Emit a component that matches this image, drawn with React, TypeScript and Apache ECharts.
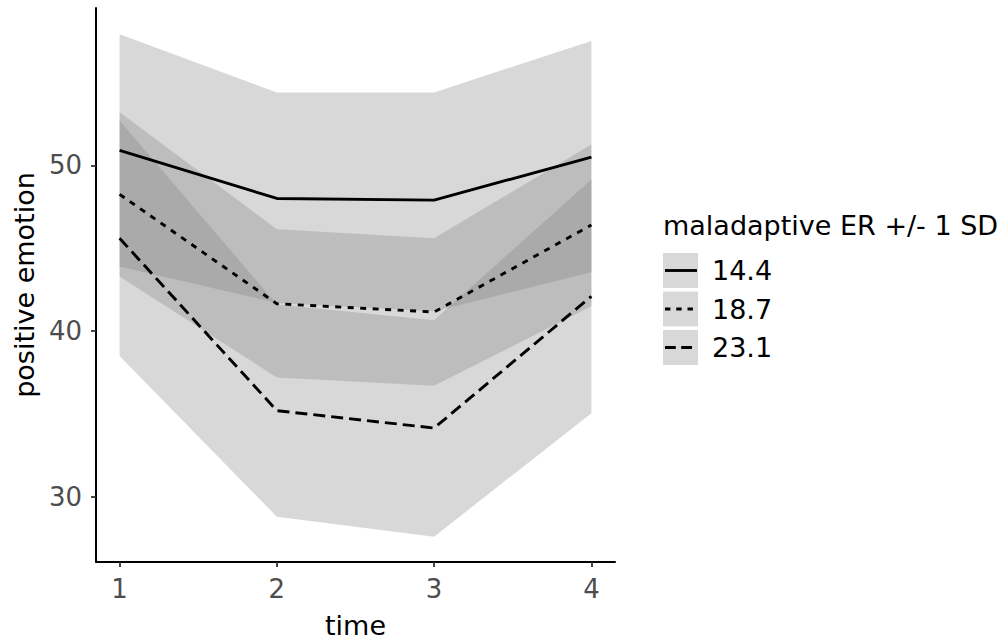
import React, { useEffect, useRef } from "react";
import * as echarts from "echarts";

// ---- data ----
const times = [1, 2, 3, 4];
const groupLabels = ["14.4", "18.7", "23.1"];

const mean144 = [50.9, 48.0, 47.9, 50.5];
const lower144 = [43.9, 41.7, 41.2, 43.55];
const upper144 = [57.9, 54.4, 54.4, 57.5];

const mean187 = [48.25, 41.65, 41.15, 46.4];
const lower187 = [43.3, 37.2, 36.7, 41.5];
const upper187 = [53.2, 46.15, 45.6, 51.25];

const mean231 = [45.6, 35.2, 34.15, 42.1];
const lower231 = [38.5, 28.8, 27.6, 35.05];
const upper231 = [52.7, 41.6, 40.65, 49.15];

const yTickValues = [30, 40, 50];
const xTickValues = [1, 2, 3, 4];

const xTitle = "time";
const yTitle = "positive emotion";
const legendTitle = "maladaptive ER +/- 1 SD";

// ---- styles ----
const FONT = "DejaVu Sans";
const BAND = "rgba(127,127,127,0.3)";
const dashes: (number[] | "solid")[] = ["solid", [6, 6.5], [12, 6]];

const means = [mean144, mean187, mean231];
const lowers = [lower144, lower187, lower231];
const uppers = [upper144, upper187, upper231];

export default function App() {
  const ref = useRef<HTMLDivElement>(null);

  useEffect(() => {
    if (!ref.current) return;
    const chart = echarts.init(ref.current, null, { renderer: "svg" });

    const series: any[] = [];
    groupLabels.forEach((g, i) => {
      // ribbon: one polygon built from upper values then reversed lower values
      series.push({
        name: "band" + g,
        type: "custom",
        coordinateSystem: "cartesian2d",
        data: times.map((t, k) => [t, lowers[i][k], uppers[i][k]]),
        encode: { x: 0, y: [1, 2] },
        silent: true,
        z: 1,
        renderItem: (params: any, api: any) => {
          if (params.dataIndex !== 0) return null;
          const top = times.map((t, k) => api.coord([t, uppers[i][k]]));
          const bot = times
            .map((t, k) => api.coord([t, lowers[i][k]]))
            .reverse();
          return {
            type: "polygon",
            shape: { points: top.concat(bot) },
            style: { fill: BAND },
          };
        },
      });
    });
    groupLabels.forEach((g, i) => {
      series.push({
        name: g,
        type: "line",
        data: times.map((t, k) => [t, means[i][k]]),
        symbol: "none",
        lineStyle: { color: "#000", width: 2.9, type: dashes[i], cap: "butt" },
        z: 3,
      });
    });

    // legend drawn with graphic elements
    const keyX = 663;
    const keyY0 = 253;
    const keyStep = 38.5;
    const keySize = 35;
    const graphic: any[] = [
      {
        type: "text",
        x: keyX,
        y: 225,
        style: {
          text: legendTitle,
          font: `27px '${FONT}'`,
          fill: "#000",
          verticalAlign: "middle",
        },
      },
    ];
    groupLabels.forEach((g, i) => {
      const y = keyY0 + i * keyStep;
      graphic.push({
        type: "rect",
        shape: { x: keyX, y, width: keySize, height: keySize },
        style: { fill: BAND },
      });
      graphic.push({
        type: "line",
        shape: { x1: keyX + 2, y1: y + keySize / 2, x2: keyX + keySize - 1, y2: y + keySize / 2 },
        style: {
          stroke: "#000",
          lineWidth: 2.9,
          lineDash: dashes[i] === "solid" ? null : (dashes[i] as number[]).map((d) => d * 0.9),
        },
      });
      graphic.push({
        type: "text",
        x: 712,
        y: y + keySize / 2,
        style: {
          text: g,
          font: `27px '${FONT}'`,
          fill: "#000",
          verticalAlign: "middle",
        },
      });
    });

    chart.setOption({
      animation: false,
      backgroundColor: "#fff",
      grid: { left: 96, right: 388, top: 8, bottom: 79.5, containLabel: false },
      xAxis: {
        type: "value",
        min: 0.85,
        max: 4.15,
        name: xTitle,
        nameLocation: "middle",
        nameGap: 50,
        nameTextStyle: { fontFamily: FONT, fontSize: 27, color: "#000" },
        axisLine: { onZero: false, lineStyle: { color: "#000", width: 2 } },
        axisTick: { show: true, length: 5, customValues: xTickValues, lineStyle: { color: "#333", width: 1.8 } },
        axisLabel: {
          customValues: xTickValues,
          margin: 14,
          fontFamily: FONT,
          fontSize: 26,
          color: "#4d4d4d",
        },
        splitLine: { show: false },
      },
      yAxis: {
        type: "value",
        min: 26.07,
        max: 59.49,
        name: yTitle,
        nameLocation: "middle",
        nameGap: 52,
        nameTextStyle: { fontFamily: FONT, fontSize: 27, color: "#000" },
        axisLine: { onZero: false, lineStyle: { color: "#000", width: 2 } },
        axisTick: { show: true, length: 5, customValues: yTickValues, lineStyle: { color: "#333", width: 1.8 } },
        axisLabel: {
          customValues: yTickValues,
          margin: 14,
          fontFamily: FONT,
          fontSize: 26,
          color: "#4d4d4d",
        },
        splitLine: { show: false },
      },
      legend: { show: false },
      series,
      graphic,
    });

    return () => chart.dispose();
  }, []);

  return (
    <div
      ref={ref}
      style={{ position: "absolute", left: 0, top: 0, width: 1003, height: 644 }}
    />
  );
}
